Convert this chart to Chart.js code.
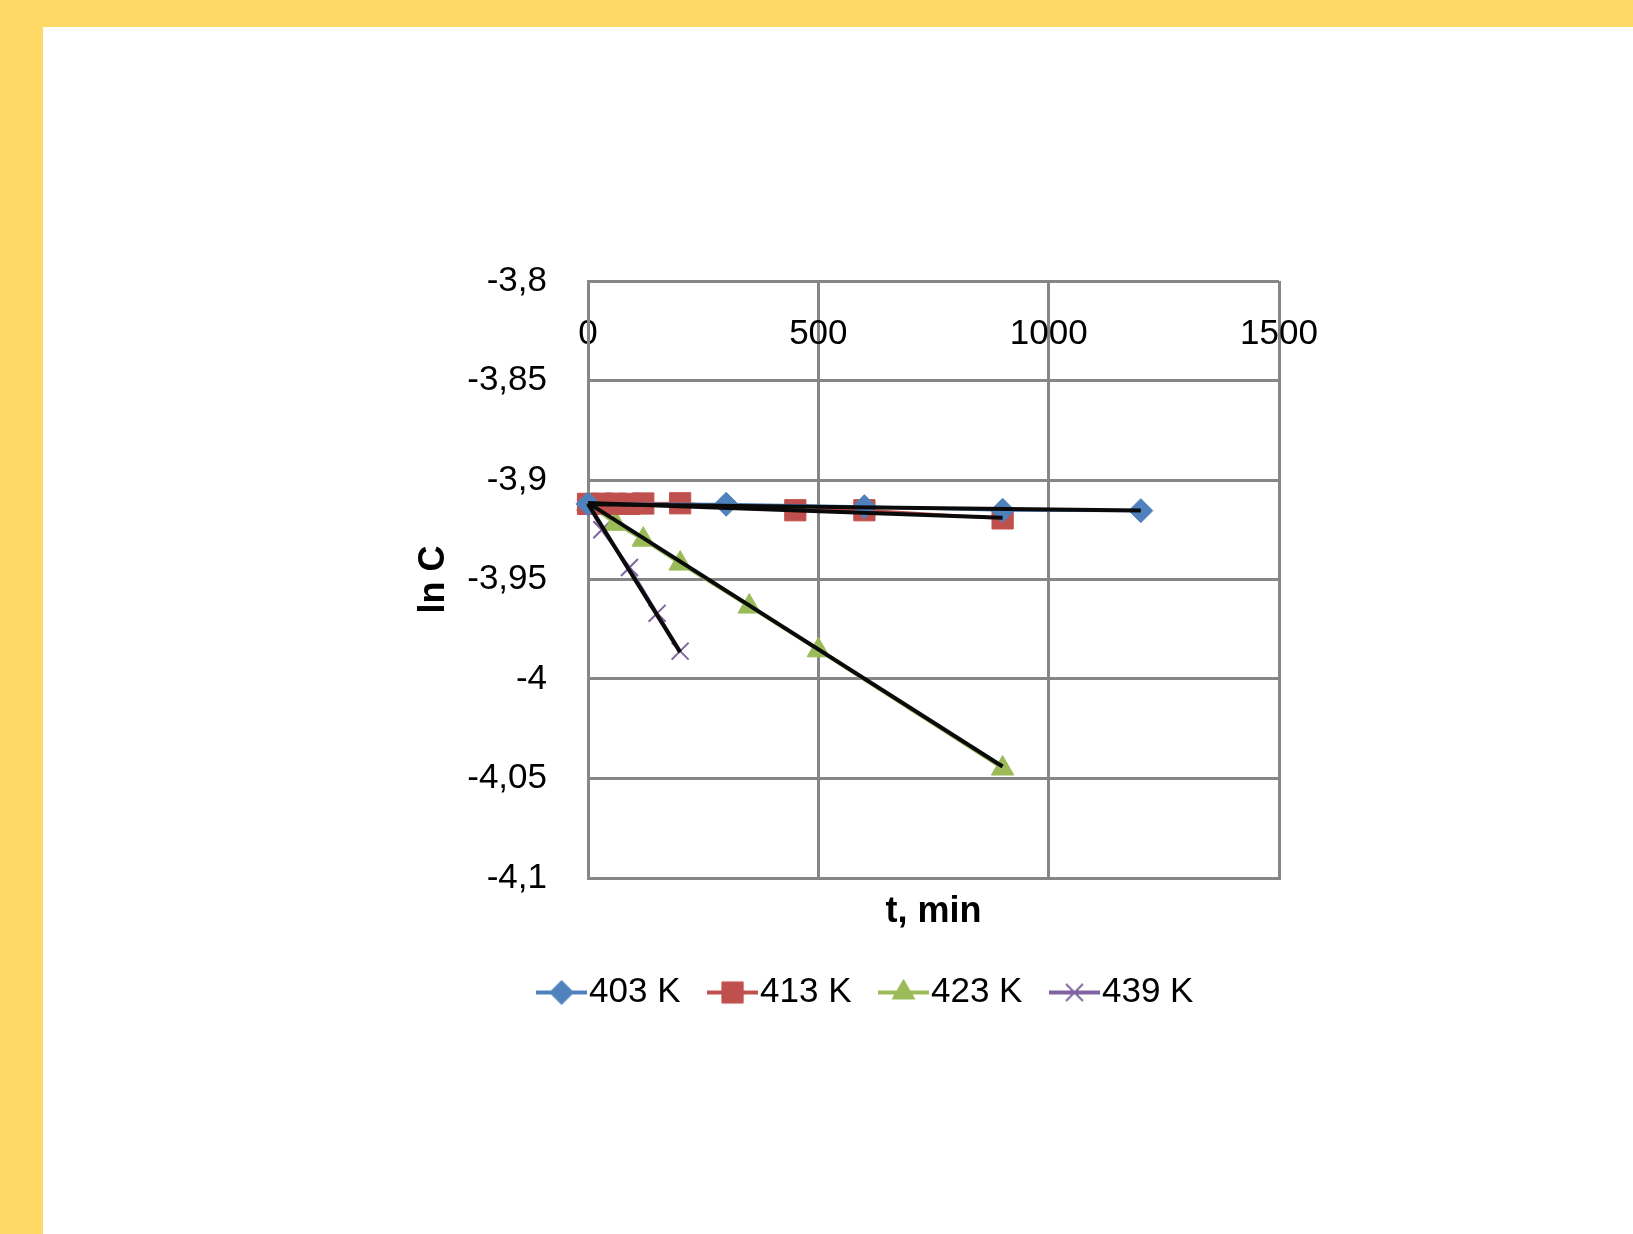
<!DOCTYPE html>
<html><head><meta charset="utf-8">
<script src="https://cdn.jsdelivr.net/npm/chart.js@4.4.1/dist/chart.umd.min.js"></script>
<style>
body{margin:0;background:#fed966;width:1633px;height:1234px;overflow:hidden;position:relative}
#sheet{position:absolute;left:43px;top:27px;right:0;bottom:0;background:#fff}
#c{position:absolute;left:0;top:0}
</style></head><body>
<div id="sheet"></div>
<canvas id="c" width="1633" height="1234"></canvas>
<script>
// series (t in min, ln C)
const names=['403 K','413 K','423 K','439 K'];
const t403=[0,300,600,900,1200];
const c403=[-3.912,-3.9122,-3.9134,-3.9152,-3.9154];
const t413=[0,30,60,90,120,200,450,600,900];
const c413=[-3.912,-3.9119,-3.9119,-3.912,-3.9118,-3.9117,-3.9152,-3.9152,-3.9193];
const t423=[0,60,120,200,350,500,900];
const c423=[-3.912,-3.922,-3.930,-3.942,-3.9636,-3.9856,-4.045];
const t439=[0,30,90,150,200];
const c439=[-3.912,-3.925,-3.944,-3.967,-3.986];
// black linear trendlines, ends
const trT=[[0,1200],[0,900],[0,900],[0,200]];
const trC=[[-3.9122,-3.9153],[-3.9115,-3.919],[-3.9115,-4.044],[-3.912,-3.9865]];
const xMin=0,xMax=1500,xStep=500;
const yMin=-4.1,yMax=-3.8,yStep=0.05;

const cols=['#4f81bd','#c0504d','#9bbb59','#8064a2'];
const marks=['rectRot','rect','triangle','crossRot'];
const rads=[12,15,13,12];
const T=[t403,t413,t423,t439], C=[c403,c413,c423,c439];

Chart.defaults.font.family='"Liberation Sans", Arial, sans-serif';
Chart.defaults.color='#000';

const pts=(xs,ys)=>xs.map((x,i)=>({x:x,y:ys[i]}));
let ds=[];
T.forEach((xs,i)=>{
    ds.push({label:names[i],data:pts(xs,C[i]),borderColor:cols[i],backgroundColor:cols[i],borderWidth:3,
        pointStyle:marks[i],pointRadius:rads[i],pointHoverRadius:rads[i],pointBackgroundColor:cols[i],
        pointBorderColor:cols[i],pointBorderWidth:i==3?2:1,clip:false,order:1});
});
trT.forEach((xs,i)=>{
    ds.push({label:'trend',data:pts(xs,trC[i]),borderColor:'#0a0a0a',borderWidth:4,pointRadius:0,clip:false,order:0});
});

function icon(i){
    let cv=document.createElement('canvas'); cv.width=51; cv.height=28;
    let g=cv.getContext('2d');
    g.strokeStyle=cols[i]; g.lineWidth=4;
    g.beginPath(); g.moveTo(0,14); g.lineTo(51,14); g.stroke();
    g.fillStyle=cols[i]; g.lineWidth=i==3?2:1;
    Chart.helpers.drawPoint(g,{pointStyle:marks[i],rotation:0,radius:rads[i],borderWidth:g.lineWidth},25.5,14);
    return cv;
}
const fmt=v=>String(Math.round(v*100)/100).replace('.',',');
const gridC='#868686';

new Chart(document.getElementById('c'),{
    type:'line',
    data:{datasets:ds},
    options:{
        responsive:false,animation:false,
        layout:{padding:{top:281,left:466,right:354,bottom:214}},
        plugins:{
            tooltip:{enabled:false},
            legend:{position:'bottom',labels:{
                usePointStyle:true,pointStyleWidth:20,padding:42,font:{size:35},color:'#000',
                generateLabels:()=>names.map((n,i)=>({text:n,pointStyle:icon(i),fillStyle:cols[i],strokeStyle:cols[i],lineWidth:0,hidden:false,datasetIndex:i,fontColor:'#000'}))
            }}
        },
        scales:{
            x:{type:'linear',position:'bottom',min:xMin,max:xMax,
                // labels sit inside the plot, under the top edge
                ticks:{stepSize:xStep,mirror:true,padding:523,maxRotation:0,font:{size:35},color:'#000',callback:fmt},
                grid:{color:gridC,lineWidth:3,drawTicks:false},border:{color:gridC,width:3},
                title:{display:true,text:'t, min',font:{size:36,weight:'bold'},color:'#000',padding:{top:0,bottom:-1}},
                afterFit:s=>{s.height=55;s.paddingLeft=0;s.paddingRight=0;}},
            y:{min:yMin,max:yMax,
                ticks:{stepSize:yStep,padding:41,font:{size:35},color:'#000',callback:fmt},
                grid:{color:gridC,lineWidth:3,drawTicks:false},border:{color:gridC,width:3},
                title:{display:true,text:'ln C',font:{size:36,weight:'bold'},color:'#000',padding:{top:-54,bottom:0}},
                afterFit:s=>{s.width=122;}}
        }
    }
});
</script>
</body></html>
